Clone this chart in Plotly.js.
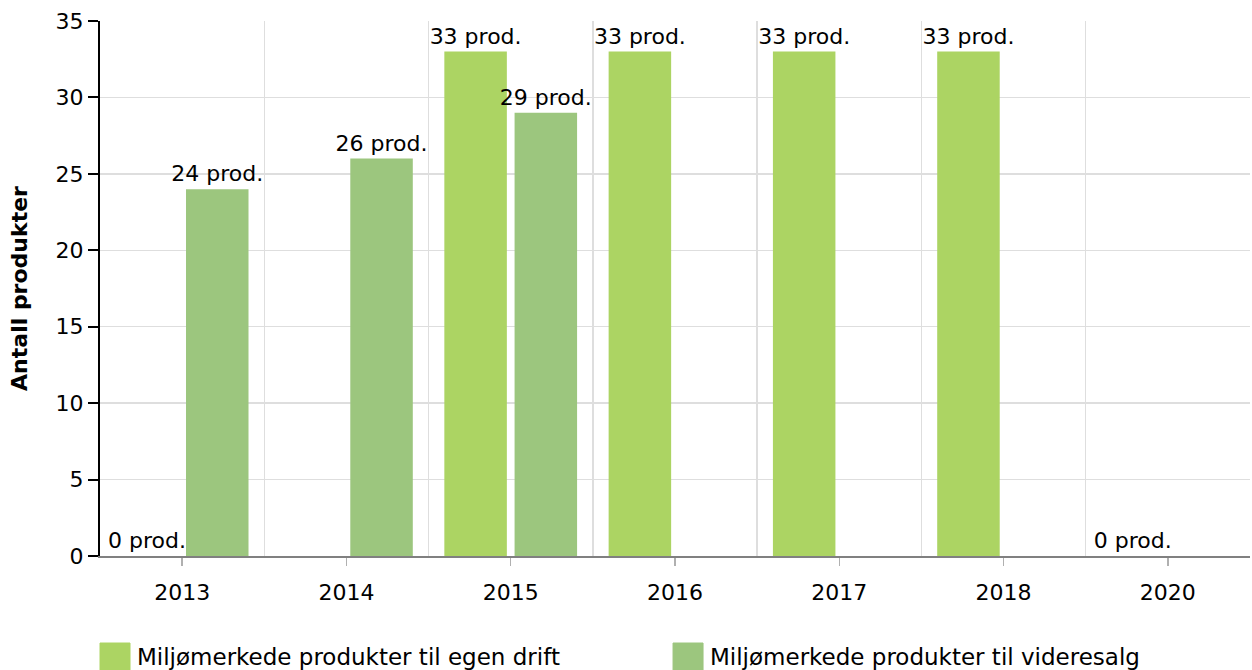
<!DOCTYPE html>
<html>
<head>
<meta charset="utf-8">
<script src="https://cdn.plot.ly/plotly-3.0.1.min.js"></script>
<style>
  html, body { margin: 0; padding: 0; background: #fff; }
  #chart { width: 1252px; height: 670px; }
</style>
</head>
<body>
<div id="chart"></div>
<script>
// ---- Data ----
const years = ['2013', '2014', '2015', '2016', '2017', '2018', '2020'];
const egenDrift = [0, null, 33, 33, 33, 33, 0];
const videresalg = [24, 26, 29, null, null, null, null];
const seriesNames = ['Miljømerkede produkter til egen drift', 'Miljømerkede produkter til videresalg'];
const labelSuffix = ' prod.';
const yTitle = 'Antall produkter';
const yTicks = [0, 5, 10, 15, 20, 25, 30, 35];

// ---- Style ----
const FONT = 'DejaVu Sans, Verdana, sans-serif';
const FS = 22;
const LEG_FS = 23;
const colors = ['#acd463', '#9cc67e'];

const boundaries = years.slice(1).map((_, i) => i + 0.5);

function barTrace(name, values, color) {
  return {
    type: 'bar',
    name: name,
    x: years,
    y: values,
    marker: { color: color },
    texttemplate: '%{y}' + labelSuffix,
    textposition: 'outside',
    textangle: 0,
    constraintext: 'none',
    cliponaxis: false,
    textfont: { family: FONT, size: FS, color: '#000' },
    hoverinfo: 'x+y+name',
    showlegend: false
  };
}

const traces = [
  barTrace(seriesNames[0], egenDrift, colors[0]),
  barTrace(seriesNames[1], videresalg, colors[1]),
  { type: 'scatter', x: [0], y: [null], xaxis: 'x2', yaxis: 'y', hoverinfo: 'skip', showlegend: false, mode: 'markers' }
];

// custom legend (large squares)
const legendX = [0, 0.4983];
const shapes = [];
const annotations = [];
seriesNames.forEach((nm, i) => {
  shapes.push({
    type: 'rect', xref: 'paper', yref: 'paper',
    xsizemode: 'pixel', ysizemode: 'pixel',
    xanchor: legendX[i], yanchor: 0,
    x0: 0, x1: 30, y0: -87, y1: -117,
    fillcolor: colors[i], line: { width: 1, color: colors[i] }
  });
  annotations.push({
    xref: 'paper', yref: 'paper', x: legendX[i], y: 0,
    xshift: 35, yshift: -101,
    xanchor: 'left', yanchor: 'middle',
    text: nm, showarrow: false,
    font: { family: FONT, size: LEG_FS, color: '#000' }
  });
});

const layout = {
  width: 1252, height: 670,
  margin: { l: 100, r: 2, t: 21, b: 114 },
  paper_bgcolor: '#fff', plot_bgcolor: '#fff',
  font: { family: FONT, size: FS, color: '#000' },
  barmode: 'group',
  bargap: 0.145,
  bargroupgap: 0.11,
  showlegend: false,
  xaxis: {
    type: 'category',
    categoryorder: 'array', categoryarray: years,
    showgrid: false,
    showline: true, linecolor: '#808080', linewidth: 1.5,
    ticks: 'outside', ticklen: 8, tickcolor: '#b0b0b0', tickwidth: 1.5,
    ticklabelstandoff: 8,
    tickfont: { family: FONT, size: FS, color: '#000' },
    zeroline: false,
    range: [-0.5, years.length - 0.5],
    fixedrange: true
  },
  xaxis2: {
    type: 'linear', overlaying: 'x', anchor: 'y', side: 'bottom',
    range: [-0.5, years.length - 0.5],
    tickmode: 'array', tickvals: boundaries,
    showgrid: true, gridcolor: '#dedede', gridwidth: 1.5,
    showticklabels: false, ticks: '', showline: false, zeroline: false,
    fixedrange: true
  },
  yaxis: {
    range: [0, 35],
    tickmode: 'array', tickvals: yTicks,
    showgrid: true, gridcolor: '#dedede', gridwidth: 1.5,
    showline: true, linecolor: '#000', linewidth: 2,
    ticks: 'outside', ticklen: 10, tickcolor: '#000', tickwidth: 2,
    tickfont: { family: FONT, size: FS, color: '#000' },
    zeroline: false,
    title: { text: '<b>' + yTitle + '</b>', font: { family: FONT, size: FS, color: '#000' }, standoff: 22 },
    fixedrange: true
  },
  shapes: shapes,
  annotations: annotations
};

Plotly.newPlot('chart', traces, layout, { displayModeBar: false, staticPlot: true });
</script>
</body>
</html>
